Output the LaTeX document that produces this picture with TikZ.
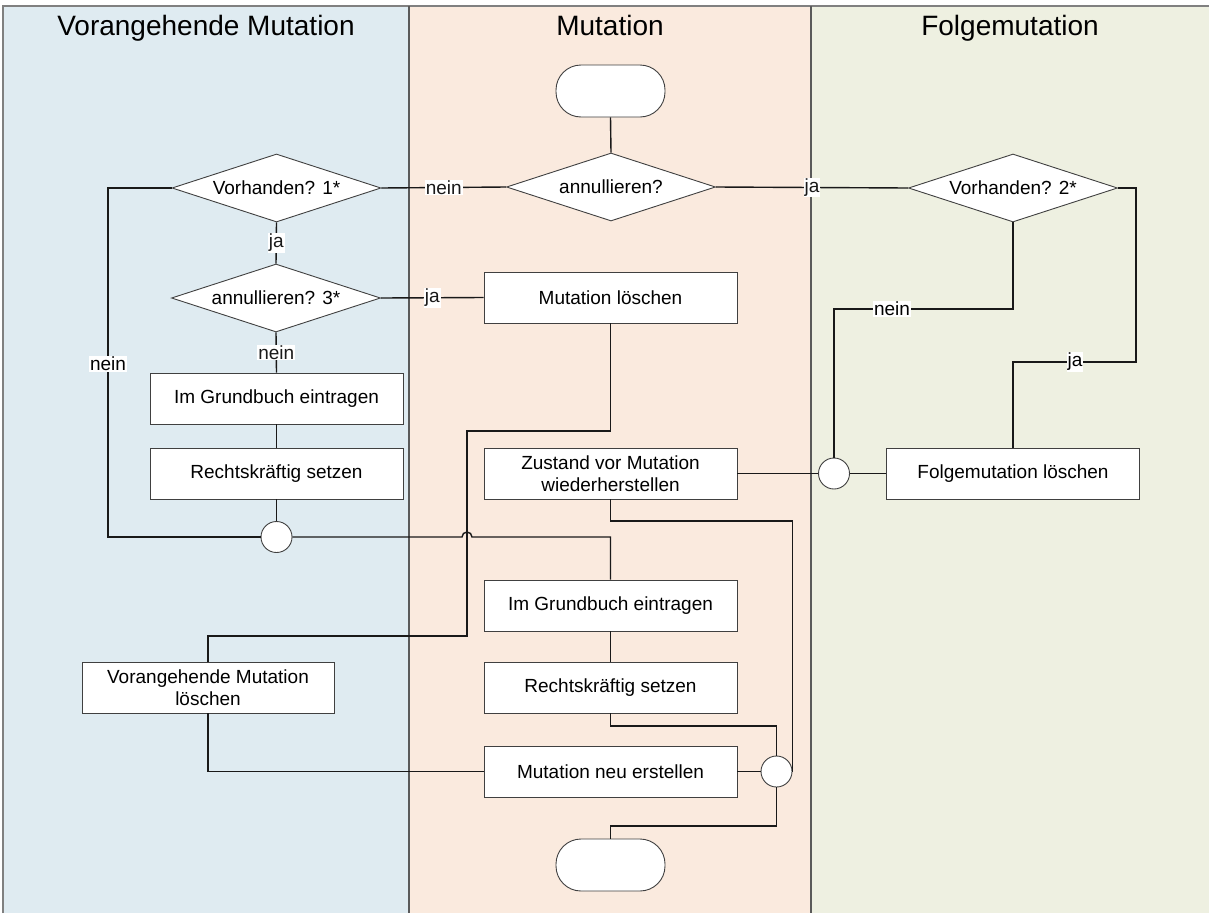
\documentclass[tikz,border=0pt]{standalone}
\usepackage{fontspec}
\setmainfont{Liberation Sans}
\usetikzlibrary{shapes.geometric}
\definecolor{laneA}{HTML}{DFEBF1}
\definecolor{laneB}{HTML}{FAEADE}
\definecolor{laneC}{HTML}{EEF0E1}
\definecolor{lanebd}{HTML}{5A5A5A}
\begin{document}
\begin{tikzpicture}[x=1pt,y=-1pt,
  hdr/.style={font=\fontsize{28}{32}\selectfont, inner sep=0pt, anchor=base},
  stepbox/.style={draw=black!75, line width=0.9pt, fill=white, minimum width=253pt, minimum height=51pt, inner sep=2pt, align=center, font=\fontsize{19}{22}\selectfont},
  decision/.style={diamond, draw=black!75, line width=0.9pt, fill=white, minimum width=209pt, minimum height=68pt, aspect=3.07, inner sep=0pt, font=\fontsize{19}{22}\selectfont},
  terminal/.style={draw=black!75, line width=0.9pt, fill=white, minimum width=109pt, minimum height=52pt, rounded corners=25pt},
  junction/.style={circle, draw=black!75, line width=0.9pt, fill=white, minimum size=31pt, inner sep=0pt},
  conn/.style={line width=1.4pt, black!90},
  lbl/.style={fill=white, inner sep=1pt, font=\fontsize{19}{22}\selectfont}]
\useasboundingbox (0,0) rectangle (1209,913);
% lanes
\fill[laneA] (3,6) rectangle (409,913);
\fill[laneB] (409,6) rectangle (811,913);
\fill[laneC] (811,6) rectangle (1209,913);
\draw[gray, line width=1.5pt] (3,913) -- (3,6) -- (1209,6);
\draw[lanebd, line width=1.3pt] (409,6) -- (409,913);
\draw[lanebd, line width=1.3pt] (811,6) -- (811,913);
\node[hdr] (h1) at (206,35) {Vorangehende Mutation};
\node[hdr] (h2) at (610,35) {Mutation};
\node[hdr] (h3) at (1010,35) {Folgemutation};
% nodes
\node[terminal] (start) at (610.5,91) {};
\node[decision] (d0) at (611,187) {annullieren?};
\node[decision] (d1) at (276.5,188) {Vorhanden? 1*};
\node[decision] (d3) at (276,298) {annullieren? 3*};
\node[decision] (d2) at (1013,188) {Vorhanden? 2*};
\node[stepbox] (gb1) at (276.5,398.5) {Im Grundbuch eintragen};
\node[stepbox] (rk1) at (276.5,473.5) {Rechtskräftig setzen};
\node[junction] (c1) at (276.5,537) {};
\node[stepbox] (ml) at (610.5,297.5) {Mutation löschen};
\node[stepbox] (zv) at (610.5,473.5) {Zustand vor Mutation\\wiederherstellen};
\node[stepbox] (gb2) at (610.5,605.5) {Im Grundbuch eintragen};
\node[stepbox] (rk2) at (610.5,687.5) {Rechtskräftig setzen};
\node[stepbox] (mn) at (610.5,771.5) {Mutation neu erstellen};
\node[junction] (c3) at (776.5,771.5) {};
\node[terminal] (end) at (610.5,865) {};
\node[junction] (c2) at (834,473.5) {};
\node[stepbox] (fl) at (1013,473.5) {Folgemutation löschen};
\node[stepbox, minimum width=252pt] (vl) at (208,687.5) {Vorangehende Mutation\\löschen};
% connectors
\draw[conn] (start.south) -- (d0.north);
\draw[conn] (d0.west) -- (d1.east) node[lbl, midway] {nein};
\draw[conn] (d0.east) -- (d2.west) node[lbl, midway] {ja};
\draw[conn] (d1.south) -- (d3.north) node[lbl, midway] {ja};
\draw[conn] (d3.south) -- (gb1.north) node[lbl, midway] {nein};
\draw[conn] (d3.east) -- (ml.west) node[lbl, midway] {ja};
\draw[conn] (gb1.south) -- (rk1.north);
\draw[conn] (rk1.south) -- (c1.north);
\coordinate (lft) at (108,537);
\draw[conn] (d1.west) -| (lft) -- (c1.west);
\node[lbl] (lnein) at (108,364) {nein};
\draw[conn] (c1.east) -- (462,537) arc[start angle=180, end angle=360, radius=5] -| (gb2.north);
\draw[conn] (ml.south) |- (467,431) -- (467,636) -| (vl.north);
\draw[conn] (vl.south) |- (mn.west);
\draw[conn] (gb2.south) -- (rk2.north);
\draw[conn] (rk2.south) -- (610.5,726) -| (c3.north);
\draw[conn] (zv.south) -- (610.5,521) -| (c3.east);
\draw[conn] (mn.east) -- (c3.west);
\draw[conn] (c3.south) -- (776.5,826) -| (end.north);
\draw[conn] (zv.east) -- (c2.west);
\draw[conn] (c2.east) -- (fl.west);
\draw[conn] (d2.south) -- (1013,309) -| (c2.north);
\node[lbl] (l2nein) at (892,309) {nein};
\draw[conn] (fl.north) -- (1013,362) -| (1136,188) -- (d2.east);
\node[lbl] (l2ja) at (1075,362) {ja};
\end{tikzpicture}
\end{document}
